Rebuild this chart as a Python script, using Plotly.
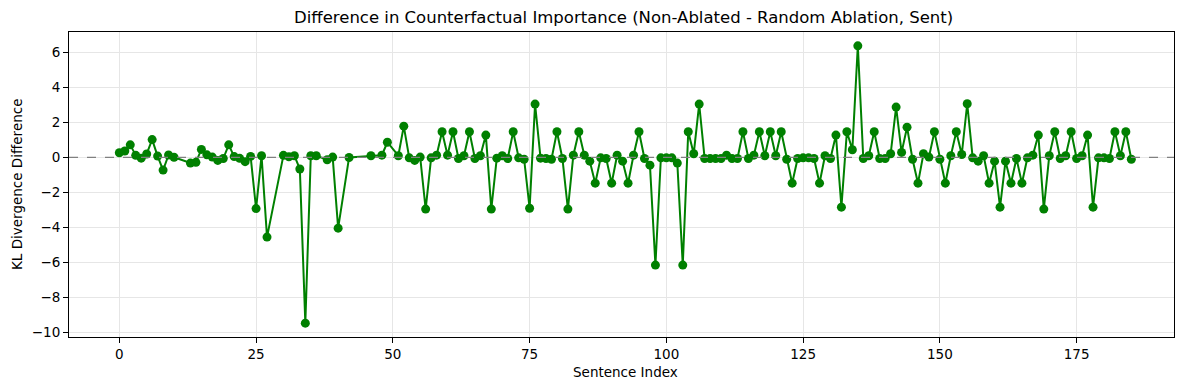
import plotly.graph_objects as go

sentence_index = (list(range(0, 11)) + list(range(13, 28)) + list(range(30, 37)) +
                  [38, 39, 40, 42, 46, 48, 49] + list(range(51, 186)))

kl_diff = [
    # 0-10
    0.27, 0.37, 0.72, 0.12, -0.04, 0.20, 1.02, 0.08, -0.72, 0.14, 0.01,
    # 13-27
    -0.32, -0.28, 0.46, 0.15, 0.02, -0.17, -0.06, 0.72, 0.05, -0.05, -0.24, 0.06, -2.92, 0.10, -4.55,
    # 30-36
    0.12, 0.04, 0.10, -0.66, -9.47, 0.10, 0.10,
    # 38, 39, 40, 42, 46, 48, 49
    -0.13, 0.02, -4.04, 0.00, 0.10, 0.13, 0.87,
    # 51-60
    0.10, 1.79, -0.02, -0.17, 0.02, -2.95, -0.02, 0.13, 1.47, 0.13,
    # 61-70
    1.47, -0.06, 0.10, 1.47, -0.06, 0.10, 1.28, -2.95, -0.04, 0.10,
    # 71-80
    -0.06, 1.47, -0.02, -0.10, -2.90, 3.05, -0.04, -0.06, -0.10, 1.47,
    # 81-90
    -0.06, -2.95, 0.13, 1.47, 0.13, -0.21, -1.47, -0.02, -0.06, -1.47,
    # 91-100
    0.13, -0.21, -1.47, 0.13, 1.47, -0.06, -0.44, -6.15, -0.02, -0.02,
    # 101-110
    -0.02, -0.32, -6.15, 1.47, 0.21, 3.05, -0.06, -0.06, -0.06, -0.06,
    # 111-120
    0.13, -0.06, -0.06, 1.47, -0.06, 0.13, 1.47, 0.10, 1.47, 0.10,
    # 121-130
    1.47, -0.10, -1.47, -0.06, -0.02, -0.02, -0.06, -1.47, 0.10, -0.06,
    # 131-140
    1.28, -2.84, 1.47, 0.44, 6.38, -0.06, 0.10, 1.47, -0.06, -0.06,
    # 141-150
    0.21, 2.88, 0.29, 1.73, -0.10, -1.47, 0.21, 0.02, 1.47, -0.10,
    # 151-160
    -1.47, 0.10, 1.47, 0.17, 3.07, -0.02, -0.21, 0.10, -1.47, -0.21,
    # 161-170
    -2.84, -0.21, -1.47, -0.06, -1.47, -0.02, 0.13, 1.28, -2.95, 0.10,
    # 171-180
    1.47, -0.06, 0.10, 1.47, -0.06, 0.10, 1.28, -2.84, -0.02, -0.02,
    # 181-185
    -0.06, 1.47, 0.10, 1.47, -0.10,
]

x_ticks = [0, 25, 50, 75, 100, 125, 150, 175]
y_ticks = [-10, -8, -6, -4, -2, 0, 2, 4, 6]

FONT = "DejaVu Sans"
OFF = 8  # page body margin in the browser
W, H = 1189 - OFF, 390 - OFF
ML, MT = 69 - OFF, 32 - OFF
MR = W - (1174 - OFF)
MB = H - (337 - OFF)
PW, PH = W - ML - MR, H - MT - MB

fig = go.Figure()
fig.add_trace(go.Scatter(
    x=sentence_index, y=kl_diff, mode="lines+markers",
    line=dict(color="#008000", width=2),
    marker=dict(color="#008000", size=9),
    showlegend=False,
))

fig.add_shape(type="line", xref="paper", x0=0, x1=1, yref="y", y0=0, y1=0,
              line=dict(color="#808080", width=1.2, dash="dash"), layer="above")

axis_common = dict(
    showline=True, mirror=True, linecolor="black", linewidth=1,
    ticks="outside", ticklen=5, tickcolor="black", tickwidth=1,
    showgrid=True, gridcolor="#e6e6e6", gridwidth=1, zeroline=False,
    tickfont=dict(family=FONT, size=13.5, color="black"),
    automargin=False,
)


def sx(px):
    return (px - OFF - ML) / PW


def sy(py):
    return (H - MB - (py - OFF)) / PH


fig.update_layout(
    width=W, height=H,
    paper_bgcolor="white", plot_bgcolor="white",
    margin=dict(l=ML, r=MR, t=MT, b=MB, autoexpand=False),
    annotations=[
        dict(text="Difference in Counterfactual Importance (Non-Ablated - Random Ablation, Sent)",
             xref="paper", yref="paper", x=sx(623), y=sy(18), xanchor="center", yanchor="middle",
             showarrow=False, font=dict(family=FONT, size=16.5, color="black")),
        dict(text="Sentence Index", xref="paper", yref="paper",
             x=sx(625), y=sy(372), xanchor="center", yanchor="middle",
             showarrow=False, font=dict(family=FONT, size=13.5, color="black")),
        dict(text="KL Divergence Difference", xref="paper", yref="paper",
             x=sx(17), y=sy(185), xanchor="center", yanchor="middle",
             textangle=-90, showarrow=False, font=dict(family=FONT, size=13.5, color="black")),
    ],
    xaxis=dict(range=[-9.2, 192.8], tickvals=x_ticks, **axis_common),
    yaxis=dict(range=[-10.26, 7.17], tickvals=y_ticks,
               ticktext=[("\u2212" + str(abs(v))) if v < 0 else str(v) for v in y_ticks],
               **axis_common),
)

fig.write_html("out.html")
